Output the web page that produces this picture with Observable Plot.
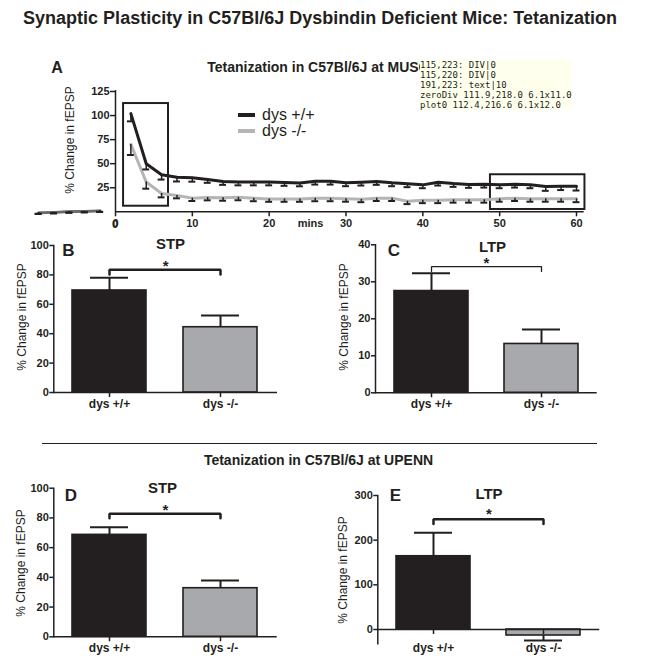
<!DOCTYPE html>
<html>
<head>
<meta charset="utf-8">
<script src="https://cdn.jsdelivr.net/npm/d3@7"></script>
<script src="https://cdn.jsdelivr.net/npm/@observablehq/plot@0.6"></script>
<style>
  html, body { margin: 0; padding: 0; background: #fff; }
  #fig { position: relative; width: 645px; height: 665px; background: #fff; overflow: hidden;
         font-family: "Liberation Sans", Arial, Helvetica, sans-serif; color: #231f20; }
  #fig .abs { position: absolute; }
  #fig svg { overflow: visible; background: transparent !important; }
</style>
</head>
<body>
<div id="fig"></div>
<script>
// ---------------- DATA ----------------
const minutes = [2,4,6,8,10,12,14,16,18,20,22,24,26,28,30,32,34,36,38,40,42,44,46,48,50,52,54,56,58,60];
const wtMean = [102,50,38.5,36,35.3,33.6,31.5,31,31,31,30.5,30,31.8,31.8,30.1,30.8,31.5,30.1,29.1,28,30.8,29.4,28.4,28.7,28,28.7,28,26.3,26.6,26.6];
const wtSem  = [8,6,5,4.5,4,3.5,3.5,3.5,3.5,3.5,3.5,3.5,3.5,3.5,3.5,3.5,3.5,3.5,3.5,3.5,3.5,3.5,3.5,3.5,3.5,3.5,3.5,4.5,4,4.5];
const koMean = [70,31,19,17,14.2,14.9,14.5,15,14,13.4,13.4,13.4,14,14,13.5,13,14.2,14.2,11,12,12,12.5,12.5,12.5,13.5,14.2,13.5,13.5,13.5,13.5];
const koSem  = [11,7,4,3,3,3,3,3,3,3,3,3,3,3,3,3,3,3,3,3,3,3,3,3,3,3,3,3,3,3.5];
const baseMinutes = [-10,-8,-6,-4,-2];
const baseWt = [-1.0,-0.4,0.2,0.6,1.0];
const baseKo = [-1.3,-0.7,0,0.4,0.8];
const baseSem = [1,1,1,1,1];
const boxX1 = [1.05, 48.8];
const boxX2 = [6.9, 61.1];
const boxY1 = [5.8, 2.4];
const boxY2 = [112.5, 38.5];
const timeTicks = [0,10,20,30,40,50,60];
const timeYTicks = [25,50,75,100,125];

const genotypes = ["dys +/+", "dys -/-"];
const stpMuscMean = [69.4, 44.4],  stpMuscSem = [8.6, 8.0];
const ltpMuscMean = [27.5, 13.2],  ltpMuscSem = [4.8, 3.9];
const stpUpennMean = [68.6, 32.7], stpUpennSem = [5.2, 5.2];
const ltpUpennMean = [164, -13.4], ltpUpennSem = [52.5, 11.2];
const stpTicks = [0,20,40,60,80,100];
const ltpMuscTicks = [0,10,20,30,40];
const ltpUpennTicks = [0,100,200,300];
const sigB = {level: 83.5, drop: 3.2, star: 88.6};
const sigC = {level: 34.1, drop: 1.3, star: 36.2};
const sigD = {level: 82.8, drop: 3.0, star: 87.7};
const sigE = {level: 247, drop: 11, star: 266};

const BLACK = "#231f20";
const GRAY_BAR = "#a7a9ac";
const GRAY_LINE = "#b5b5b7";
const FONT = "Liberation Sans, Arial, Helvetica, sans-serif";
const fig = document.getElementById("fig");

function place(node, left, top, z = 1) {
  const d = document.createElement("div");
  d.className = "abs";
  d.style.left = left + "px";
  d.style.top = top + "px";
  d.style.zIndex = z;
  d.appendChild(node);
  fig.appendChild(d);
  return d;
}
function txt(s, cx, cy, {size = 12, weight = "normal", rotate = 0, align = "center", z = 0} = {}) {
  const d = document.createElement("div");
  d.textContent = s;
  const tx = align === "left" ? "0" : "-50%";
  d.style.cssText = `position:absolute;left:${cx}px;top:${cy}px;font-size:${size}px;font-weight:${weight};` +
    `white-space:nowrap;line-height:1;color:${BLACK};z-index:${z};transform:translate(${tx},-50%) rotate(${rotate}deg);`;
  fig.appendChild(d);
  return d;
}
function hline(x1, x2, y, color, w) {
  const d = document.createElement("div");
  d.style.cssText = `position:absolute;left:${x1}px;top:${y - w/2}px;width:${x2 - x1}px;height:${w}px;background:${color};`;
  fig.appendChild(d);
}

function barPanel({means, sems, ticks, domain, sig, bracketWidth, ml, mr, mt, mb}) {
  const W = 300, H = 190;
  const rows = genotypes.map((g, i) => ({g, v: means[i], sem: sems[i]}));
  const tip = d => d.v + Math.sign(d.v) * d.sem;
  const bracket = [
    {g: genotypes[0], v: sig.level - sig.drop},
    {g: genotypes[0], v: sig.level},
    {g: genotypes[1], v: sig.level},
    {g: genotypes[1], v: sig.level - sig.drop}
  ];
  const pxPerUnit = (H - mt - mb) / (domain[1] - domain[0]);
  const axisDy = -(0 - domain[0]) * pxPerUnit;
  const belowFrame = domain[0] < 0;
  return Plot.plot({
    width: W, height: H,
    marginLeft: ml, marginRight: mr, marginTop: mt, marginBottom: mb,
    style: {fontFamily: FONT, fontSize: "11px", fontWeight: "bold", color: BLACK, background: "transparent"},
    x: {domain: genotypes, paddingInner: 0.33, paddingOuter: 0.17, label: null},
    y: {domain, label: null},
    marks: [
      Plot.ruleX(rows, {x: "g", y1: "v", y2: tip, stroke: BLACK, strokeWidth: 2}),
      Plot.tickY(rows, {x: "g", y: tip, stroke: BLACK, strokeWidth: 2, insetLeft: 18, insetRight: 18}),
      Plot.barY(rows, {x: "g", y: "v", fill: (d, i) => i === 0 ? BLACK : GRAY_BAR, stroke: BLACK, strokeWidth: 1.6}),
      Plot.line(bracket, {x: "g", y: "v", stroke: BLACK, strokeWidth: bracketWidth, strokeLinejoin: "miter"}),
      Plot.text(["*"], {y: [sig.star], text: d => d, fontSize: 15, fontWeight: "bold", dy: 4, fill: BLACK}),
      Plot.frame({anchor: "left", stroke: BLACK, strokeWidth: 1.5}),
      Plot.ruleY([0], {stroke: BLACK, strokeWidth: 1.5}),
      Plot.axisX({tickSize: 5, tickPadding: belowFrame ? 9 : 2, dy: axisDy, label: null, fontSize: 12, strokeWidth: 1.5}),
      Plot.axisY({ticks, tickSize: 4, tickPadding: 1, tickFormat: d => String(d), label: null, strokeWidth: 1.5})
    ]
  });
}

place(barPanel({means: stpMuscMean, sems: stpMuscSem, ticks: stpTicks, domain: [0, 100], sig: sigB,
  bracketWidth: 2.5, ml: 53.3, mr: 23, mt: 15, mb: 28}), 0, 230);
place(barPanel({means: ltpMuscMean, sems: ltpMuscSem, ticks: ltpMuscTicks, domain: [0, 40], sig: sigC,
  bracketWidth: 1.3, ml: 55, mr: 23.3, mt: 14.3, mb: 27.7}), 320, 230);
place(barPanel({means: stpUpennMean, sems: stpUpennSem, ticks: stpTicks, domain: [0, 100], sig: sigD,
  bracketWidth: 2.5, ml: 53.3, mr: 23.3, mt: 17.7, mb: 23.7}), 0, 470);
place(barPanel({means: ltpUpennMean, sems: ltpUpennSem, ticks: ltpUpennTicks, domain: [-32, 300], sig: sigE,
  bracketWidth: 2.5, ml: 57.3, mr: 20.7, mt: 25, mb: 16.7}), 320, 470);

const rowsWt = minutes.map((t, i) => ({t, v: wtMean[i], sem: wtSem[i], g: "dys +/+"}));
const rowsKo = minutes.map((t, i) => ({t, v: koMean[i], sem: koSem[i], g: "dys -/-"}));
const rowsBase = baseMinutes.flatMap((t, i) => [
  {t, v: baseWt[i], sem: baseSem[i], g: "dys +/+"}, {t, v: baseKo[i], sem: baseSem[i], g: "dys -/-"}]);
const boxes = boxX1.map((x1, i) => ({x1, x2: boxX2[i], y1: boxY1[i], y2: boxY2[i]}));
const allRows = rowsWt.concat(rowsKo, rowsBase);

const aW = 645, aH = 180;
const xPx0 = 115, xPx60 = 576;
const kx = (xPx60 - xPx0) / 60;
const aML = xPx0, aMR = aW - (xPx0 + 62 * kx);
const aMT = 31.2, aMB = 23.7;

const plotA = Plot.plot({
  width: aW, height: aH,
  marginLeft: aML, marginRight: aMR, marginTop: aMT, marginBottom: aMB,
  style: {fontFamily: FONT, fontSize: "11px", fontWeight: "bold", color: BLACK, background: "transparent"},
  x: {domain: [0, 62], label: null},
  y: {domain: [0, 130], label: null},
  marks: [
    Plot.rect(boxes, {x1: "x1", x2: "x2", y1: "y1", y2: "y2", fill: "none", stroke: BLACK, strokeWidth: 2}),
    Plot.line(rowsBase, {x: "t", y: "v", z: "g", stroke: "#6a6a6a", strokeWidth: 2.5}),
    Plot.line(rowsKo, {x: "t", y: "v", stroke: GRAY_LINE, strokeWidth: 3}),
    Plot.line(rowsWt, {x: "t", y: "v", stroke: BLACK, strokeWidth: 3}),
    Plot.ruleX(allRows, {x: "t", y1: d => d.v - d.sem, y2: "v", stroke: BLACK, strokeWidth: 1.5}),
    Plot.ruleY(allRows, {y: d => d.v - d.sem, x1: d => d.t - 0.45, x2: d => d.t + 0.45, stroke: BLACK, strokeWidth: 2}),
    Plot.ruleY([0], {x1: 0, x2: 61, stroke: BLACK, strokeWidth: 1.5}),
    Plot.ruleX([0], {y1: 0, y2: 126, stroke: BLACK, strokeWidth: 1.5}),
    Plot.axisX({ticks: timeTicks, tickSize: 5, tickPadding: 2, tickFormat: d => String(d), label: null, strokeWidth: 1.5}),
    Plot.axisY({ticks: timeYTicks, tickSize: 5, tickPadding: 1, tickFormat: d => String(d), label: null, strokeWidth: 1.5})
  ]
});
place(plotA, 0, 55, 5);

txt("Synaptic Plasticity in C57Bl/6J Dysbindin Deficient Mice: Tetanization", 320, 18, {size: 18, weight: "bold"});
txt("A", 57, 68, {size: 16, weight: "bold"});
txt("Tetanization in C57Bl/6J at MUSC", 318, 67, {size: 14, weight: "bold"});
txt("% Change in fEPSP", 70, 140, {size: 12, rotate: -90});
txt("mins", 310.5, 223, {size: 11, weight: "bold"});
const zeroDiv = txt(String(timeTicks[0]), xPx0, 223.5, {size: 11, weight: "bold", z: 20});
hline(238, 255, 115, BLACK, 3.5);
hline(238, 255, 131, GRAY_LINE, 3.5);
txt("dys +/+", 262, 115, {size: 16, align: "left"});
txt("dys -/-", 262, 131, {size: 16, align: "left"});
txt("B", 68.5, 250, {size: 17, weight: "bold"});
txt("STP", 170.5, 243, {size: 15, weight: "bold"});
txt("% Change in fEPSP", 22, 317, {size: 12, rotate: -90});
txt("C", 394, 250, {size: 17, weight: "bold"});
txt("LTP", 492.5, 246, {size: 15, weight: "bold"});
txt("% Change in fEPSP", 344, 317, {size: 12, rotate: -90});
hline(41.7, 597.3, 443.5, BLACK, 1.6);
txt("Tetanization in C57Bl/6J at UPENN", 318.5, 460, {size: 14, weight: "bold"});
txt("D", 71, 495, {size: 17, weight: "bold"});
txt("STP", 162.5, 487, {size: 15, weight: "bold"});
txt("% Change in fEPSP", 21, 563, {size: 12, rotate: -90});
txt("E", 395.5, 495, {size: 17, weight: "bold"});
txt("LTP", 489, 493, {size: 15, weight: "bold"});
txt("% Change in fEPSP", 342.5, 570, {size: 12, rotate: -90});

// debug
const info = [];
for (const [x, y] of [[115, 223], [115, 220], [191, 223]]) {
  const el = document.elementFromPoint(x, y);
  info.push(`${x},${y}: ${el ? el.tagName + "|" + (el.textContent||"").slice(0,12) : "none"}`);
}
const zr = zeroDiv.getBoundingClientRect();
info.push(`zeroDiv ${zr.left.toFixed(1)},${zr.top.toFixed(1)} ${zr.width.toFixed(1)}x${zr.height.toFixed(1)}`);
[...plotA.querySelectorAll("text")].filter(t => t.textContent === "0").forEach(t => {
  const r = t.getBoundingClientRect(); info.push(`plot0 ${r.left.toFixed(1)},${r.top.toFixed(1)} ${r.width.toFixed(1)}x${r.height.toFixed(1)}`);
});
const dbg = document.createElement("div");
dbg.style.cssText = "position:absolute;left:420px;top:60px;font:9px monospace;white-space:pre;z-index:50;background:#ffe";
dbg.textContent = info.join("\n");
fig.appendChild(dbg);
</script>
</body>
</html>
